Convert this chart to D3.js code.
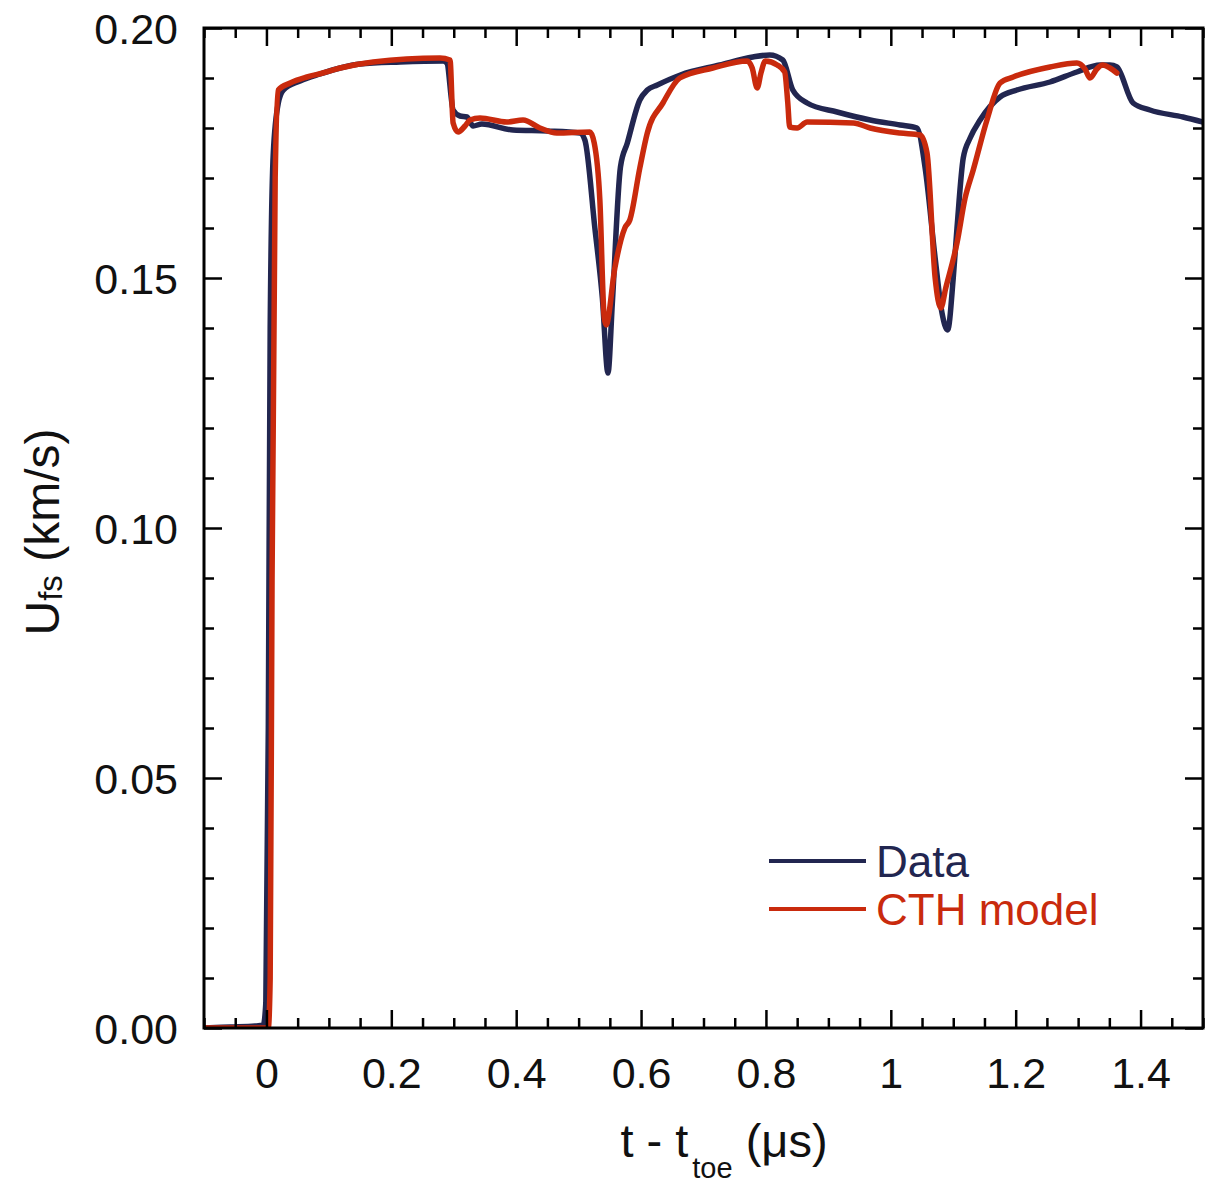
<!DOCTYPE html>
<html>
<head>
<meta charset="utf-8">
<script src="https://cdn.jsdelivr.net/npm/d3@7"></script>
<style>
  html, body { margin: 0; padding: 0; background: #fff; }
  svg { display: block; font-family: "Liberation Sans", Arial, sans-serif; }
</style>
</head>
<body>
<svg id="chart" width="1219" height="1185"></svg>
<script>
// Free-surface velocity history: measured trace vs. CTH simulation
// time t - t_toe (µs), velocity U_fs (km/s)
const dataTrace = [
  [-0.100, 0.0000], [-0.058, 0.0002], [-0.018, 0.0004], [-0.005, 0.0006],
  [-0.001, 0.0050], [0.003, 0.0600], [0.006, 0.1400], [0.011, 0.1750],
  [0.019, 0.1850], [0.027, 0.1876], [0.054, 0.1894], [0.086, 0.1908],
  [0.118, 0.1920], [0.150, 0.1928], [0.214, 0.1932], [0.283, 0.1934],
  [0.289, 0.1930], [0.299, 0.1836], [0.310, 0.1824], [0.321, 0.1822],
  [0.331, 0.1804], [0.345, 0.1808], [0.395, 0.1796], [0.450, 0.1794],
  [0.502, 0.1790], [0.510, 0.1776], [0.526, 0.1600], [0.538, 0.1460],
  [0.547, 0.1310], [0.554, 0.1450], [0.567, 0.1722], [0.578, 0.1770],
  [0.598, 0.1856], [0.610, 0.1876], [0.626, 0.1886], [0.663, 0.1906],
  [0.726, 0.1926], [0.779, 0.1942], [0.806, 0.1946], [0.827, 0.1936],
  [0.843, 0.1876], [0.866, 0.1850], [0.914, 0.1832], [0.967, 0.1816],
  [1.015, 0.1806], [1.042, 0.1800], [1.055, 0.1720], [1.071, 0.1540],
  [1.082, 0.1430], [1.091, 0.1396], [1.100, 0.1500], [1.106, 0.1600],
  [1.116, 0.1740], [1.127, 0.1780], [1.143, 0.1816], [1.175, 0.1862],
  [1.202, 0.1876], [1.255, 0.1892], [1.298, 0.1912], [1.335, 0.1926],
  [1.351, 0.1926], [1.362, 0.1922], [1.388, 0.1850], [1.415, 0.1836],
  [1.468, 0.1822], [1.500, 0.1812]
];

const cthModel = [
  [-0.100, 0.0000], [0.003, 0.0000], [0.006, 0.0100], [0.009, 0.0900],
  [0.014, 0.1700], [0.019, 0.1876], [0.038, 0.1890], [0.065, 0.1902],
  [0.090, 0.1910], [0.118, 0.1920], [0.171, 0.1932], [0.278, 0.1940],
  [0.294, 0.1936], [0.299, 0.1810], [0.307, 0.1792], [0.318, 0.1804],
  [0.326, 0.1816], [0.342, 0.1820], [0.385, 0.1812], [0.411, 0.1816],
  [0.438, 0.1800], [0.465, 0.1790], [0.518, 0.1792], [0.525, 0.1770],
  [0.534, 0.1656], [0.541, 0.1420], [0.544, 0.1406], [0.558, 0.1520],
  [0.574, 0.1600], [0.582, 0.1616], [0.598, 0.1720], [0.610, 0.1790],
  [0.635, 0.1850], [0.662, 0.1900], [0.715, 0.1920], [0.770, 0.1934],
  [0.778, 0.1920], [0.786, 0.1880], [0.792, 0.1910], [0.799, 0.1934],
  [0.818, 0.1926], [0.830, 0.1912], [0.835, 0.1850], [0.838, 0.1802],
  [0.850, 0.1800], [0.866, 0.1812], [0.940, 0.1810], [0.967, 0.1800],
  [1.015, 0.1790], [1.047, 0.1786], [1.058, 0.1750], [1.071, 0.1500],
  [1.080, 0.1440], [1.088, 0.1480], [1.106, 0.1570], [1.119, 0.1660],
  [1.132, 0.1716], [1.154, 0.1816], [1.175, 0.1890], [1.196, 0.1902],
  [1.255, 0.1922], [1.298, 0.1930], [1.311, 0.1918], [1.319, 0.1900],
  [1.330, 0.1918], [1.339, 0.1926], [1.351, 0.1920], [1.362, 0.1910]
];

const xTickValues = [0, 0.2, 0.4, 0.6, 0.8, 1, 1.2, 1.4];
const yTickValues = [0, 0.05, 0.10, 0.15, 0.20];
const seriesNames = ["Data", "CTH model"];
const seriesColors = ["#222650", "#c92a0d"];

const svg = d3.select("#chart");
const margin = { left: 204, top: 28, right: 16, bottom: 157 };
const W = 1219, H = 1185;
const innerW = W - margin.left - margin.right;
const innerH = H - margin.top - margin.bottom;

const x = d3.scaleLinear().domain([-0.1, 1.5]).range([margin.left, margin.left + innerW]);
const y = d3.scaleLinear().domain([0, 0.2]).range([margin.top + innerH, margin.top]);

const x0 = margin.left, x1 = margin.left + innerW;
const y0 = margin.top + innerH, y1 = margin.top;

// clip the traces to the plotting frame
svg.append("clipPath").attr("id", "plotClip")
  .append("rect").attr("x", x0).attr("y", y1).attr("width", innerW).attr("height", innerH);

const line = d3.line()
  .x(d => x(d[0])).y(d => y(d[1]))
  .curve(d3.curveMonotoneX);

const traces = svg.append("g").attr("clip-path", "url(#plotClip)");
[dataTrace, cthModel].forEach((s, i) => {
  traces.append("path")
    .datum(s)
    .attr("d", line)
    .attr("fill", "none")
    .attr("stroke", seriesColors[i])
    .attr("stroke-width", 5.5)
    .attr("stroke-linejoin", "round")
    .attr("stroke-linecap", "round");
});

// ticks inward on all four sides
const xMinor = d3.range(-0.1, 1.5001, 0.05).map(v => +v.toFixed(3));
const yMinor = d3.range(0, 0.2001, 0.01).map(v => +v.toFixed(3));
const isMajorX = v => xTickValues.some(t => Math.abs(t - v) < 1e-6);
const isMajorY = v => yTickValues.some(t => Math.abs(t - v) < 1e-6);
const MAJ = 18, MIN = 10;

// bottom axis: ticks point up into the plot
const xb = svg.append("g").attr("transform", `translate(0,${y0})`)
  .call(d3.axisBottom(x).tickValues(xMinor).tickSizeOuter(0)
    .tickFormat(v => isMajorX(v) ? String(+v.toFixed(1)) : ""));
xb.select(".domain").remove();
xb.selectAll(".tick line").attr("stroke", "#000").attr("stroke-width", 2.5)
  .attr("y2", d => -(isMajorX(d) ? MAJ : MIN));
xb.selectAll(".tick text").attr("y", 60).attr("dy", 0)
  .attr("font-size", 43).attr("fill", "#111")
  .attr("font-family", "Liberation Sans, Arial, sans-serif");

// top axis: ticks point down
const xt = svg.append("g").attr("transform", `translate(0,${y1})`)
  .call(d3.axisTop(x).tickValues(xMinor).tickSizeOuter(0).tickFormat(""));
xt.select(".domain").remove();
xt.selectAll(".tick line").attr("stroke", "#000").attr("stroke-width", 2.5)
  .attr("y2", d => (isMajorX(d) ? MAJ : MIN));

// left axis: ticks point right
const yl = svg.append("g").attr("transform", `translate(${x0},0)`)
  .call(d3.axisLeft(y).tickValues(yMinor).tickSizeOuter(0)
    .tickFormat(v => isMajorY(v) ? d3.format(".2f")(v) : ""));
yl.select(".domain").remove();
yl.selectAll(".tick line").attr("stroke", "#000").attr("stroke-width", 2.5)
  .attr("x2", d => (isMajorY(d) ? MAJ : MIN));
yl.selectAll(".tick text").attr("x", -26).attr("dy", "0.36em")
  .attr("font-size", 43).attr("fill", "#111")
  .attr("font-family", "Liberation Sans, Arial, sans-serif");

// right axis: ticks point left
const yr = svg.append("g").attr("transform", `translate(${x1},0)`)
  .call(d3.axisRight(y).tickValues(yMinor).tickSizeOuter(0).tickFormat(""));
yr.select(".domain").remove();
yr.selectAll(".tick line").attr("stroke", "#000").attr("stroke-width", 2.5)
  .attr("x2", d => -(isMajorY(d) ? MAJ : MIN));

// frame
svg.append("rect")
  .attr("x", x0).attr("y", y1).attr("width", innerW).attr("height", innerH)
  .attr("fill", "none").attr("stroke", "#000").attr("stroke-width", 3);

// x-axis title with subscript
const xt2 = svg.append("text")
  .attr("x", 724).attr("y", 1157)
  .attr("text-anchor", "middle")
  .attr("font-size", 47).attr("fill", "#111");
xt2.append("tspan").text("t - t");
xt2.append("tspan").attr("font-size", 29).attr("dy", 21).attr("dx", 4).text("toe");
xt2.append("tspan").attr("dy", -21).text(" (\u03bcs)");

// y-axis title with subscript, rotated
const yt = svg.append("text")
  .attr("transform", `translate(59,${(y0 + y1) / 2 + 4}) rotate(-90)`)
  .attr("text-anchor", "middle")
  .attr("font-size", 48).attr("fill", "#111");
yt.append("tspan").text("U");
yt.append("tspan").attr("font-size", 33).attr("dy", 3).text("fs");
yt.append("tspan").attr("dy", -3).text(" (km/s)");

// legend
const legend = svg.append("g");
seriesNames.forEach((name, i) => {
  const ly = 861 + i * 48;
  legend.append("line")
    .attr("x1", 769).attr("x2", 866).attr("y1", ly).attr("y2", ly)
    .attr("stroke", seriesColors[i]).attr("stroke-width", 4);
  legend.append("text")
    .attr("x", 876).attr("y", ly + 16)
    .attr("font-size", 44).attr("fill", seriesColors[i])
    .text(name);
});
</script>
</body>
</html>
